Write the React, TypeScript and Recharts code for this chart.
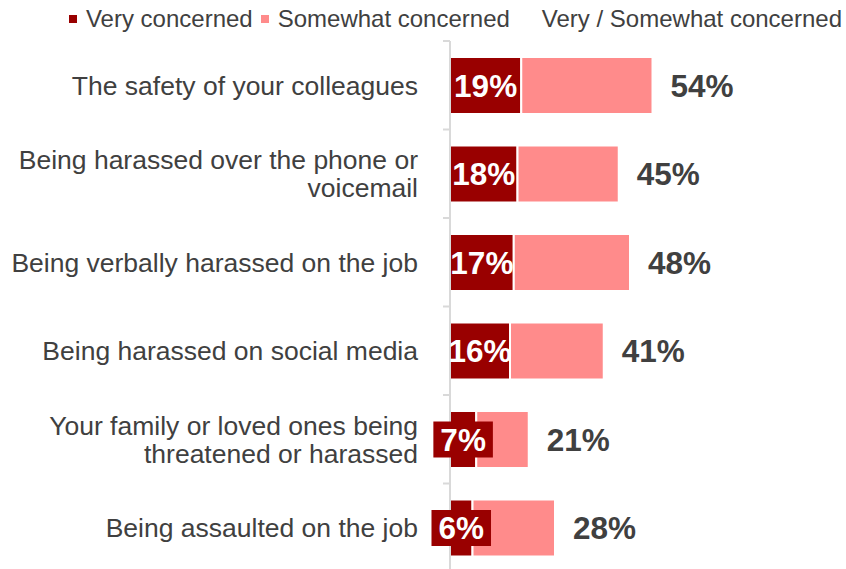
import { BarChart, Bar, XAxis, YAxis, Legend, LabelList } from "recharts";

// Concern levels, stacked: very + somewhat, with the combined share printed at the bar end.

const categories = [
  "The safety of your colleagues",
  "Being harassed over the phone or\nvoicemail",
  "Being verbally harassed on the job",
  "Being harassed on social media",
  "Your family or loved ones being\nthreatened or harassed",
  "Being assaulted on the job",
];
const veryConcerned = [19, 18, 17, 16, 7, 6];
const somewhatConcerned = [35, 27, 31, 25, 14, 22];
const combined = [54, 45, 48, 41, 21, 28];

const SERIES_NAMES = ["Very concerned", "Somewhat concerned"];
const COMBINED_NAME = "Very / Somewhat concerned";

const DARK = "#990000";
const PINK = "#FF8B8B";
const TEXT = "#404040";
const FONT = '"Liberation Sans", Arial, sans-serif';

const WIDTH = 846;
const HEIGHT = 572;
const MARGIN = { top: 14, right: 21, bottom: 0, left: 0 };
const PLOT_TOP = 41;
const BAND = (HEIGHT - PLOT_TOP - MARGIN.bottom) / categories.length;
const LABEL_GAP = 32;
const VALUE_FONT = 31.5;

const data = categories.map((name, i) => ({
  name,
  very: veryConcerned[i],
  somewhat: somewhatConcerned[i],
  total: combined[i],
}));

function CategoryTick(props: any) {
  const { x, y, payload, index } = props;
  const lines = String(payload.value).split("\n");
  const lh = 28;
  const axisX = x + LABEL_GAP;
  const startY = y - ((lines.length - 1) * lh) / 2;
  return (
    <g>
      <line x1={axisX - 7} x2={axisX} y1={y - BAND / 2} y2={y - BAND / 2} stroke="#d9d9d9" strokeWidth={2} />
      {index === categories.length - 1 && (
        <line x1={axisX - 7} x2={axisX} y1={y + BAND / 2} y2={y + BAND / 2} stroke="#d9d9d9" strokeWidth={2} />
      )}
      <text x={x} y={startY} textAnchor="end" fill={TEXT} fontSize={26.5} fontFamily={FONT}>
        {lines.map((l, i) => (
          <tspan key={i} x={x} dy={i === 0 ? "0.35em" : lh}>
            {l}
          </tspan>
        ))}
      </text>
    </g>
  );
}

function VeryLabel(props: any) {
  const { x, y, width, height, value } = props;
  const cx = x + width / 2;
  const cy = y + height / 2;
  const txt = `${value}%`;
  // rough bold width: digits .556em, % .889em
  const textW = (String(value).length * 0.556 + 0.889) * VALUE_FONT;
  // only the narrow segments get the filled label box
  const small = width < 40;
  const boxW = textW + 14;
  return (
    <g>
      {small && <rect x={cx - boxW / 2} y={cy - 18} width={boxW} height={36} fill={DARK} />}
      <text
        x={cx}
        y={cy}
        textAnchor="middle"
        dominantBaseline="central"
        fill="#fff"
        fontSize={VALUE_FONT}
        fontWeight="bold"
        fontFamily={FONT}
      >
        {txt}
      </text>
    </g>
  );
}

function TotalLabel(props: any) {
  const { x, y, width, height, value } = props;
  return (
    <text
      x={x + width + 18}
      y={y + height / 2}
      dominantBaseline="central"
      fill={TEXT}
      fontSize={VALUE_FONT}
      fontWeight="bold"
      fontFamily={FONT}
    >
      {`${value}%`}
    </text>
  );
}

function LegendContent(props: any) {
  const items = ([...(props.payload || [])] as any[]).sort(
    (a, b) => SERIES_NAMES.indexOf(a.value) - SERIES_NAMES.indexOf(b.value)
  );
  return (
    <div style={{ display: "flex", alignItems: "center", fontFamily: FONT, fontSize: 24, color: TEXT, whiteSpace: "nowrap", height: 27 }}>
      {items.map((it) => (
        <span key={it.value} style={{ display: "flex", alignItems: "center", marginRight: 8 }}>
          <span style={{ width: 8, height: 8, background: it.color, marginRight: 9, display: "inline-block" }} />
          {it.value}
        </span>
      ))}
      <span style={{ marginLeft: 24 }}>{COMBINED_NAME}</span>
    </div>
  );
}

export default function App() {
  return (
    <div style={{ position: "fixed", left: 0, top: 0, width: 846, height: 569, overflow: "hidden", background: "#fff" }}>
      <BarChart width={WIDTH} height={HEIGHT} data={data} layout="vertical" margin={MARGIN}>
        <XAxis type="number" domain={[0, 100]} hide />
        <YAxis
          type="category"
          dataKey="name"
          width={450}
          tickLine={false}
          tickSize={0}
          tickMargin={LABEL_GAP}
          axisLine={{ stroke: "#d9d9d9", strokeWidth: 2 }}
          tick={<CategoryTick />}
          interval={0}
        />
        <Legend
          verticalAlign="top"
          align="right"
          content={<LegendContent />}
          wrapperStyle={{ top: 5, right: 4, left: "auto", width: "auto" }}
        />
        <Bar dataKey="very" name={SERIES_NAMES[0]} stackId="a" fill={DARK} stroke="#fff" strokeWidth={2} barSize={57} isAnimationActive={false}>
          <LabelList dataKey="very" content={<VeryLabel />} />
        </Bar>
        <Bar dataKey="somewhat" name={SERIES_NAMES[1]} stackId="a" fill={PINK} stroke="#fff" strokeWidth={2} barSize={57} isAnimationActive={false}>
          <LabelList dataKey="total" content={<TotalLabel />} />
        </Bar>
      </BarChart>
    </div>
  );
}
